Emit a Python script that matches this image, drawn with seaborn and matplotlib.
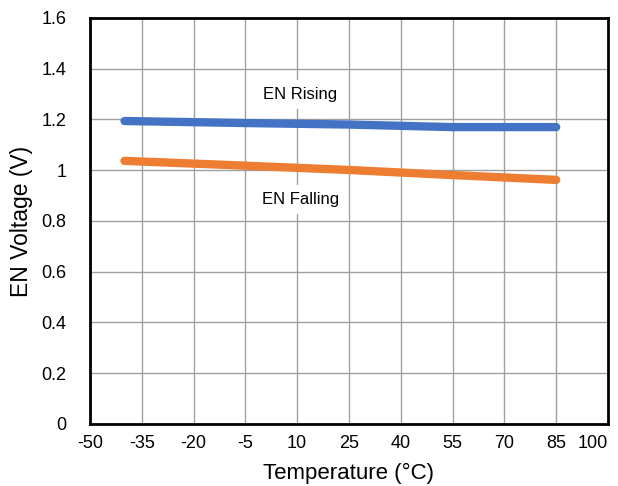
import seaborn as sns
import matplotlib.pyplot as plt
import pandas as pd

temps = [-40, -5, 25, 55, 85]
en_rising = [1.194, 1.186, 1.180, 1.170, 1.170]
en_falling = [1.037, 1.018, 1.001, 0.981, 0.962]
x_ticks = [-50, -35, -20, -5, 10, 25, 40, 55, 70, 85, 100]
y_ticks = [0, 0.2, 0.4, 0.6, 0.8, 1, 1.2, 1.4, 1.6]
y_labels = ["0", "0.2", "0.4", "0.6", "0.8", "1", "1.2", "1.4", "1.6"]


def main():
    data = pd.DataFrame({
        'Temperature': temps * 2,
        'Voltage': en_rising + en_falling,
        'Series': ['EN Rising'] * len(temps) + ['EN Falling'] * len(temps),
    })

    sns.set_style("white")
    plt.rcParams['font.family'] = ['Liberation Sans', 'DejaVu Sans']
    plt.rcParams['text.color'] = 'black'
    plt.rcParams['axes.labelcolor'] = 'black'
    plt.rcParams['xtick.color'] = 'black'
    plt.rcParams['ytick.color'] = 'black'

    fig = plt.figure(figsize=(6.18, 4.86), dpi=100)
    ax = fig.add_axes([0.1456, 0.1276, 0.8382, 0.8354])

    sns.lineplot(data=data, x='Temperature', y='Voltage', hue='Series',
                 palette={'EN Rising': '#4472C4', 'EN Falling': '#ED7D31'},
                 linewidth=6, legend=False, ax=ax,
                 solid_capstyle='round', zorder=3)

    ax.set_xlim(-50, 100)
    ax.set_ylim(0, 1.6)
    ax.set_xticks(x_ticks)
    ax.set_xticklabels([str(t) for t in x_ticks], fontsize=13)
    ax.set_yticks(y_ticks)
    ax.set_yticklabels(y_labels, fontsize=13)
    ax.tick_params(axis='y', length=0, pad=17)
    ax.tick_params(axis='x', length=0, pad=8)
    ax.get_xticklabels()[-1].set_horizontalalignment('right')
    ax.grid(True, color='#a0a0a0', linewidth=1)
    ax.set_axisbelow(True)
    for s in ax.spines.values():
        s.set_color('black')
        s.set_linewidth(2)

    ax.set_xlabel('Temperature (°C)', fontsize=16, labelpad=8)
    ax.set_ylabel('EN Voltage (V)', fontsize=16.5, labelpad=6)

    box = dict(facecolor='white', edgecolor='none', pad=5)
    ax.text(10.8, 1.30, 'EN Rising', fontsize=12, ha='center', va='center', bbox=box, zorder=4)
    ax.text(11, 0.883, 'EN Falling', fontsize=12, ha='center', va='center', bbox=box, zorder=4)

    fig.savefig('out.png', dpi=100)


if __name__ == '__main__':
    main()
